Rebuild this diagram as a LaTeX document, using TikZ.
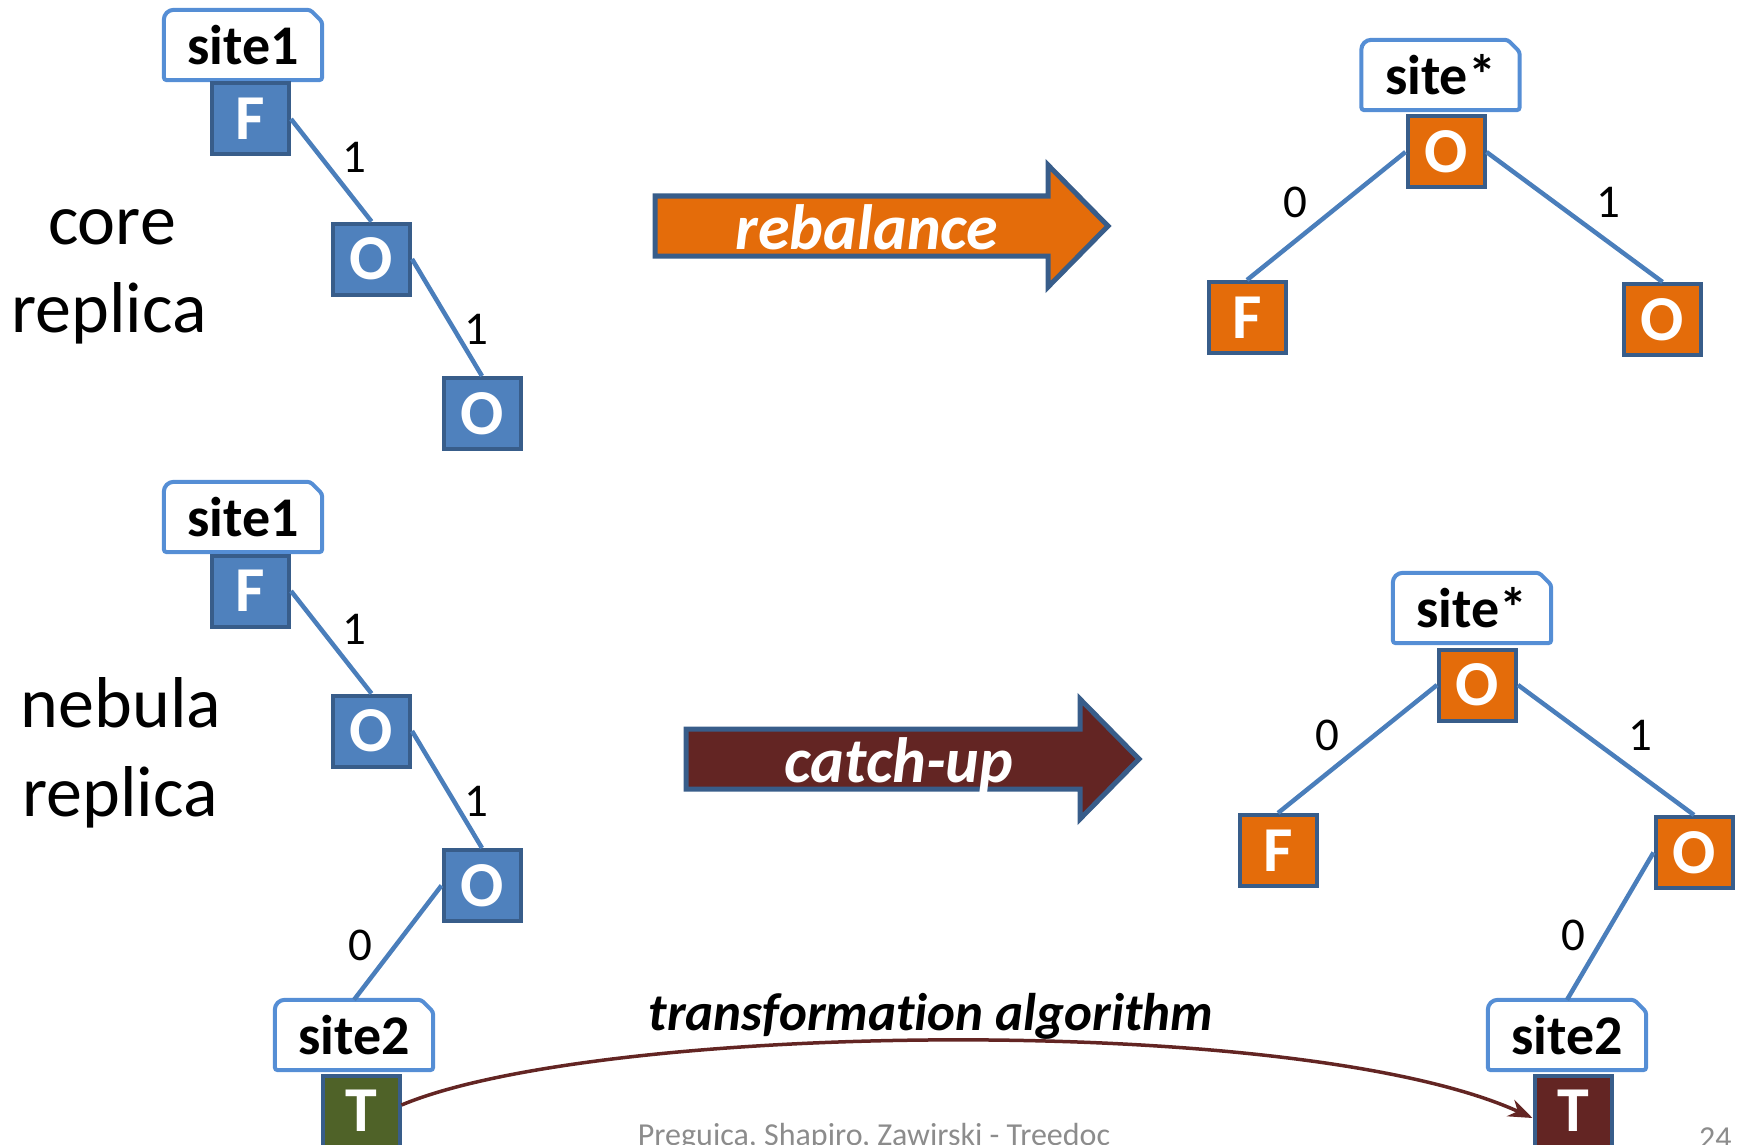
\documentclass[tikz,border=0pt]{standalone}
\usepackage{fontspec}
\setmainfont{Carlito}[Ligatures={TeX,NoCommon}]
\usetikzlibrary{arrows.meta}
\definecolor{boxblue}{HTML}{4F81BD}
\definecolor{boxline}{HTML}{385D8A}
\definecolor{sitecol}{HTML}{558ED5}
\definecolor{edgeblue}{HTML}{4A7EBB}
\definecolor{orangefill}{HTML}{E46C0A}
\definecolor{darkred}{HTML}{632523}
\definecolor{olivefill}{HTML}{4F6228}
\definecolor{footgray}{HTML}{8C8C8C}
\pgfdeclarelayer{bg}
\pgfsetlayers{bg,main}
\newcommand\drawsite[1]{%
  \begin{pgfonlayer}{bg}
  \filldraw[siteframe] (#1.south west) [rounded corners=3pt] -- (#1.south east)
    -- ([yshift=-12pt]#1.north east) -- ([xshift=-12pt]#1.north east)
    [rounded corners=10pt] -- (#1.north west) [rounded corners=3pt] -- cycle;
  \end{pgfonlayer}}
\begin{document}
\begin{tikzpicture}[x=1pt,y=-1pt,
  letterbox/.style={draw=boxline, line width=4pt, minimum width=77pt, minimum height=71pt,
    inner sep=0pt, text=white, font=\fontsize{64}{64}\selectfont\bfseries},
  bluebox/.style={letterbox, fill=boxblue},
  orangebox/.style={letterbox, fill=orangefill},
  redbox/.style={letterbox, fill=darkred},
  olivebox/.style={letterbox, fill=olivefill},
  sitelbl/.style={minimum width=158pt, minimum height=70pt, inner sep=0pt,
    font=\fontsize{56}{56}\selectfont\bfseries},
  siteframe/.style={draw=sitecol, fill=white, line width=4pt},
  edge/.style={draw=edgeblue, line width=4.5pt},
  elabel/.style={font=\fontsize{47}{47}\selectfont, inner sep=0pt},
  sidetext/.style={font=\fontsize{72}{80}\selectfont, inner sep=0pt, anchor=base},
  blockarrow/.style={draw=boxline, line width=5pt, line join=miter},
  arrowtext/.style={text=white, font=\fontsize{64}{64}\selectfont\bfseries\itshape,
    inner sep=0pt, anchor=base},
  curvearrow/.style={draw=darkred, line width=3.5pt, -{Stealth[length=24pt,width=18pt]}},
  foot/.style={text=footgray, font=\fontsize{32}{32}\selectfont, inner sep=0pt, anchor=base},
]
\useasboundingbox (0,0) rectangle (1741,1145);
\clip (0,0) rectangle (1741,1145);

% ---------- side texts
\node[sidetext] (core) at (112,244) {core};
\node[sidetext] (corerep) at (109,332) {replica};
\node[sidetext] (neb) at (121,727) {nebula};
\node[sidetext] (nebrep) at (120,816) {replica};

% ---------- top-left tree
\node[sitelbl] (s1) at (243,45) {site1};
\drawsite{s1}
\node[bluebox] (F1) at (250.5,119) {F};
\node[bluebox] (O1) at (371.5,259) {O};
\node[bluebox] (O2) at (482,413.5) {O};
\draw[edge] (F1.east) -- (O1.north);
\draw[edge] (O1.east) -- (O2.north);
\node[elabel] (l1) at (354,157) {1};
\node[elabel] (l2) at (476,329) {1};

% ---------- bottom-left tree
\node[sitelbl] (s1b) at (243,517) {site1};
\drawsite{s1b}
\node[bluebox] (F1b) at (250.5,591) {F};
\node[bluebox] (O1b) at (371.5,731) {O};
\node[bluebox] (O2b) at (482,885.5) {O};
\node[sitelbl] (s2b) at (354,1035) {site2};
\drawsite{s2b}
\node[olivebox] (Tb) at (361,1111) {T};
\draw[edge] (F1b.east) -- (O1b.north);
\draw[edge] (O1b.east) -- (O2b.north);
\draw[edge] (O2b.west) -- (s2b.north);
\node[elabel] (l3) at (354,629) {1};
\node[elabel] (l4) at (476,801) {1};
\node[elabel] (l5) at (360,945) {0};

% ---------- top-right tree
\node[sitelbl] (ss) at (1440.5,75) {site*};
\drawsite{ss}
\node[orangebox] (Rt) at (1446,152) {O};
\node[orangebox] (Ft) at (1247,317.5) {F};
\node[orangebox] (Ot) at (1662.5,319.5) {O};
\draw[edge] (Rt.west) -- (Ft.north);
\draw[edge] (Rt.east) -- (Ot.north);
\node[elabel] (l6) at (1295,202) {0};
\node[elabel] (l7) at (1608,202) {1};

% ---------- bottom-right tree
\node[sitelbl] (ssb) at (1472,608) {site*};
\drawsite{ssb}
\node[orangebox] (Rb) at (1477.5,685) {O};
\node[orangebox] (Fb) at (1278,850.5) {F};
\node[orangebox] (Ob) at (1694,852.5) {O};
\node[sitelbl] (s2r) at (1567,1035) {site2};
\drawsite{s2r}
\node[redbox] (Tr) at (1573,1111) {T};
\draw[edge] (Rb.west) -- (Fb.north);
\draw[edge] (Rb.east) -- (Ob.north);
\draw[edge] (Ob.west) -- (s2r.north);
\node[elabel] (l8) at (1327,735) {0};
\node[elabel] (l9) at (1640,735) {1};
\node[elabel] (l10) at (1573,935) {0};

% ---------- block arrows
\filldraw[blockarrow, fill=orangefill] (655,196) -- (1048,196) -- (1048,165) -- (1108,226)
  -- (1048,287) -- (1048,256) -- (655,256) -- cycle;
\node[arrowtext] (reb) at (867,249) {rebalance};
\filldraw[blockarrow, fill=darkred] (686,729) -- (1080,729) -- (1080,699) -- (1139,759)
  -- (1080,819) -- (1080,789) -- (686,789) -- cycle;
\node[arrowtext] (cat) at (899,782) {catch-up};

% ---------- transformation
\node[font=\fontsize{53}{53}\selectfont\bfseries\itshape, inner sep=0pt, anchor=base] (trans) at (931,1030) {transformation algorithm};
\draw[curvearrow] ([yshift=6pt]Tb.east) .. controls (600,1022) and (1300,1012) .. ([yshift=-7pt]Tr.west);

% ---------- footer
\node[foot] (footer) at (874,1145) {Preguica, Shapiro, Zawirski - Treedoc};
\node[foot, anchor=base west] (pagenum) at (1699,1148) {24};
\end{tikzpicture}
\end{document}
